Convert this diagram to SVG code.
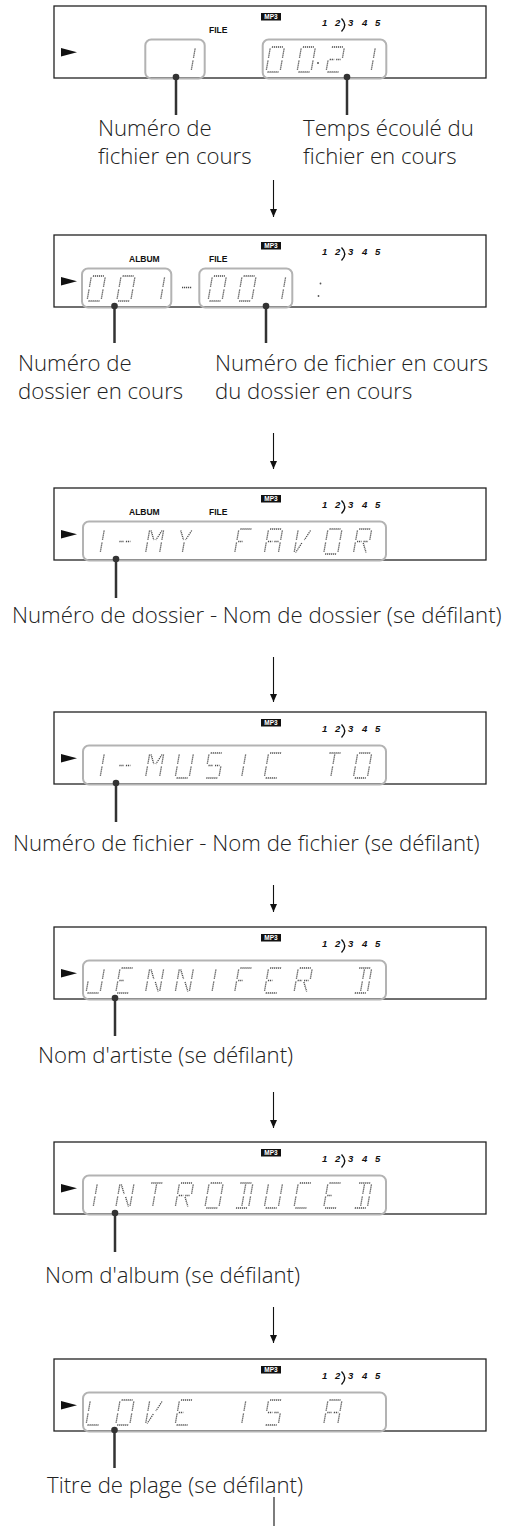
<svg xmlns="http://www.w3.org/2000/svg" width="519" height="1526" viewBox="0 0 519 1526">
<style>
.frame{fill:#fff;stroke:#222;stroke-width:1.3}
.mp3{fill:#111}
.mp3t{fill:#fff;font-family:"Liberation Sans",Arial,sans-serif;font-weight:bold;font-size:6.5px}
.trk{font-family:"Liberation Sans",Arial,sans-serif;font-weight:bold;font-style:italic;font-size:9.5px;fill:#111}
.ind{font-family:"Liberation Sans",Arial,sans-serif;font-weight:bold;font-size:8.5px;fill:#111}
.box{fill:none;stroke:#b3b3b3;stroke-width:2}
.seg{fill:none;stroke:#4a4a4a;stroke-width:1.3;stroke-dasharray:1.2 0.8}
.lead{stroke:#333;stroke-width:2.5}
.dot{fill:#333}
.lbl{font-family:"Open Sans",sans-serif;font-weight:300;font-size:22.2px;fill:#222}
.flow{stroke:#111;stroke-width:1.1;fill:none}
</style>
<defs>
<marker id="ah" viewBox="0 0 8 7" refX="8" refY="3.5" markerWidth="8" markerHeight="7" markerUnits="userSpaceOnUse" orient="auto"><path d="M0,0L8,3.5L0,7z" fill="#111"/></marker>
<path id="sa" class="seg" d="M1.5,0H12.5"/>
<path id="sd" class="seg" d="M1.5,25H12.5"/>
<path id="sf" class="seg" d="M0,1.5V11.5"/>
<path id="se" class="seg" d="M0,13.5V23.5"/>
<path id="sb" class="seg" d="M14,1.5V11.5"/>
<path id="sc" class="seg" d="M14,13.5V23.5"/>
<path id="sg1" class="seg" d="M1.5,12.5H6"/>
<path id="sg2" class="seg" d="M8,12.5H12.5"/>
<path id="si" class="seg" d="M7,1.5V11.5"/>
<path id="sl" class="seg" d="M7,13.5V23.5"/>
<path id="sh" class="seg" d="M1.5,1.5L6,11"/>
<path id="sj" class="seg" d="M12.5,1.5L8,11"/>
<path id="sk" class="seg" d="M6,14L1.5,23.5"/>
<path id="sm" class="seg" d="M8,14L12.5,23.5"/>
<g id="c0"><use href="#sa"/><use href="#sb"/><use href="#sc"/><use href="#sd"/><use href="#se"/><use href="#sf"/></g>
<g id="c1"><use href="#sb"/><use href="#sc"/></g>
<g id="c2"><use href="#sa"/><use href="#sb"/><use href="#sg1"/><use href="#sg2"/><use href="#se"/><use href="#sd"/></g>
<g id="cdash"><use href="#sg1"/><use href="#sg2"/></g>
<g id="cM"><use href="#sf"/><use href="#se"/><use href="#sb"/><use href="#sc"/><use href="#sh"/><use href="#sj"/></g>
<g id="cY"><use href="#sh"/><use href="#sj"/><use href="#sl"/></g>
<g id="cF"><use href="#sa"/><use href="#sf"/><use href="#se"/><use href="#sg1"/></g>
<g id="cA"><use href="#sa"/><use href="#sb"/><use href="#sc"/><use href="#se"/><use href="#sf"/><use href="#sg1"/><use href="#sg2"/></g>
<g id="cV"><use href="#sf"/><use href="#se"/><use href="#sk"/><use href="#sj"/></g>
<g id="cR"><use href="#sa"/><use href="#sb"/><use href="#sf"/><use href="#se"/><use href="#sg1"/><use href="#sg2"/><use href="#sm"/></g>
<g id="cU"><use href="#sb"/><use href="#sc"/><use href="#sd"/><use href="#se"/><use href="#sf"/></g>
<g id="cS"><use href="#sa"/><use href="#sf"/><use href="#sg1"/><use href="#sg2"/><use href="#sc"/><use href="#sd"/></g>
<g id="cI"><use href="#si"/><use href="#sl"/></g>
<g id="cC"><use href="#sa"/><use href="#sf"/><use href="#se"/><use href="#sd"/></g>
<g id="cT"><use href="#sa"/><use href="#si"/><use href="#sl"/></g>
<g id="cJ"><use href="#sb"/><use href="#sc"/><use href="#sd"/><use href="#se"/></g>
<g id="cE"><use href="#sa"/><use href="#sf"/><use href="#se"/><use href="#sd"/><use href="#sg1"/></g>
<g id="cN"><use href="#sf"/><use href="#se"/><use href="#sh"/><use href="#sm"/><use href="#sb"/><use href="#sc"/></g>
<g id="cD"><use href="#sa"/><use href="#sb"/><use href="#sc"/><use href="#sd"/><use href="#si"/><use href="#sl"/></g>
<g id="cL"><use href="#sf"/><use href="#se"/><use href="#sd"/></g>
<g id="pbase">
<rect class="frame" x="0" y="0" width="432" height="72"/>
<rect class="mp3" x="207" y="7" width="20" height="7.5"/>
<text class="mp3t" x="217" y="13.3" text-anchor="middle">MP3</text>
<text class="trk" y="20"><tspan x="268">1</tspan><tspan x="281">2</tspan><tspan x="294">3</tspan><tspan x="308">4</tspan><tspan x="321">5</tspan></text>
<path d="M287.5,12.5Q294,19 287.5,25.5" fill="none" stroke="#111" stroke-width="1.4"/>
<polygon points="7,42 23,46.2 7,50.5" fill="#111"/>
</g>
</defs>
<rect width="519" height="1526" fill="#fff"/>

<g id="panel-1">
<use href="#pbase" x="54" y="6"/>
<text class="ind" x="209" y="32.5">FILE</text>
<rect class="box" x="145.3" y="39.5" width="59.4" height="39" rx="6"/>
<rect class="box" x="262.7" y="39.5" width="123.6" height="39" rx="6"/>
<use href="#c1" transform="translate(181.4,47) skewX(-10)"/>
<use href="#c0" transform="translate(270.4,47) skewX(-10)"/>
<use href="#c0" transform="translate(301.4,47) skewX(-10)"/>
<circle cx="318" cy="63" r="1" fill="#555"/>
<use href="#c2" transform="translate(330.4,47) skewX(-10)"/>
<use href="#c1" transform="translate(361.4,47) skewX(-10)"/>
<line class="lead" x1="176" y1="77" x2="176" y2="115"/>
<circle class="dot" cx="176" cy="77" r="3.3"/>
<line class="lead" x1="347" y1="77" x2="347" y2="115"/>
<circle class="dot" cx="347" cy="77" r="3.3"/>
<text class="lbl" x="98" y="136">Numéro de</text>
<text class="lbl" x="98" y="164">fichier en cours</text>
<text class="lbl" x="303" y="136">Temps écoulé du</text>
<text class="lbl" x="303" y="164">fichier en cours</text>
</g>

<g id="panel-2">
<use href="#pbase" x="54" y="235"/>
<text class="ind" x="129" y="261.5">ALBUM</text>
<text class="ind" x="209" y="261.5">FILE</text>
<rect class="box" x="82" y="268.5" width="89.3" height="39" rx="6"/>
<rect class="box" x="199.3" y="268.5" width="93" height="39" rx="6"/>
<use href="#c0" transform="translate(91.4,276) skewX(-10)"/>
<use href="#c0" transform="translate(121.1,276) skewX(-10)"/>
<use href="#c1" transform="translate(150.8,276) skewX(-10)"/>
<line class="seg" x1="182" y1="287.5" x2="192" y2="287.5"/>
<use href="#c0" transform="translate(212.4,276) skewX(-10)"/>
<use href="#c0" transform="translate(242.1,276) skewX(-10)"/>
<use href="#c1" transform="translate(271.8,276) skewX(-10)"/>
<circle cx="320.5" cy="283.5" r="0.9" fill="#555"/>
<circle cx="318.5" cy="296" r="0.9" fill="#555"/>
<line class="lead" x1="114.5" y1="306" x2="114.5" y2="343"/>
<circle class="dot" cx="114.5" cy="306" r="3.3"/>
<line class="lead" x1="266" y1="306" x2="266" y2="343"/>
<circle class="dot" cx="266" cy="306" r="3.3"/>
<text class="lbl" x="18" y="371">Numéro de</text>
<text class="lbl" x="18" y="399">dossier en cours</text>
<text class="lbl" x="215" y="371">Numéro de fichier en cours</text>
<text class="lbl" x="215" y="399">du dossier en cours</text>
</g>

<g id="panel-3">
<use href="#pbase" x="54" y="488"/>
<text class="ind" x="129" y="514.5">ALBUM</text>
<text class="ind" x="209" y="514.5">FILE</text>
<rect class="box" x="83" y="521.5" width="303" height="39" rx="6"/>
<use href="#c1" transform="translate(90.4,529) skewX(-10)"/>
<use href="#cdash" transform="translate(120.1,529) skewX(-10)"/>
<use href="#cM" transform="translate(149.8,529) skewX(-10)"/>
<use href="#cY" transform="translate(179.5,529) skewX(-10)"/>
<use href="#cF" transform="translate(238.9,529) skewX(-10)"/>
<use href="#cA" transform="translate(268.6,529) skewX(-10)"/>
<use href="#cV" transform="translate(298.3,529) skewX(-10)"/>
<use href="#c0" transform="translate(328,529) skewX(-10)"/>
<use href="#cR" transform="translate(357.7,529) skewX(-10)"/>
<line class="lead" x1="116" y1="559" x2="116" y2="598"/>
<circle class="dot" cx="116" cy="559" r="3.3"/>
<text class="lbl" x="12" y="623">Numéro de dossier - Nom de dossier (se défilant)</text>
</g>

<g id="panel-4">
<use href="#pbase" x="54" y="712"/>
<rect class="box" x="83" y="745.5" width="303" height="39" rx="6"/>
<use href="#c1" transform="translate(90.4,753) skewX(-10)"/>
<use href="#cdash" transform="translate(120.1,753) skewX(-10)"/>
<use href="#cM" transform="translate(149.8,753) skewX(-10)"/>
<use href="#cU" transform="translate(179.5,753) skewX(-10)"/>
<use href="#cS" transform="translate(209.2,753) skewX(-10)"/>
<use href="#cI" transform="translate(238.9,753) skewX(-10)"/>
<use href="#cC" transform="translate(268.6,753) skewX(-10)"/>
<use href="#cT" transform="translate(328,753) skewX(-10)"/>
<use href="#c0" transform="translate(357.7,753) skewX(-10)"/>
<line class="lead" x1="116" y1="783" x2="116" y2="822"/>
<circle class="dot" cx="116" cy="783" r="3.3"/>
<text class="lbl" x="13" y="851">Numéro de fichier - Nom de fichier (se défilant)</text>
</g>

<g id="panel-5">
<use href="#pbase" x="54" y="927"/>
<rect class="box" x="83" y="960.5" width="303" height="39" rx="6"/>
<use href="#cJ" transform="translate(90.4,968) skewX(-10)"/>
<use href="#cE" transform="translate(120.1,968) skewX(-10)"/>
<use href="#cN" transform="translate(149.8,968) skewX(-10)"/>
<use href="#cN" transform="translate(179.5,968) skewX(-10)"/>
<use href="#cI" transform="translate(209.2,968) skewX(-10)"/>
<use href="#cF" transform="translate(238.9,968) skewX(-10)"/>
<use href="#cE" transform="translate(268.6,968) skewX(-10)"/>
<use href="#cR" transform="translate(298.3,968) skewX(-10)"/>
<use href="#cD" transform="translate(357.7,968) skewX(-10)"/>
<line class="lead" x1="115" y1="998" x2="115" y2="1036"/>
<circle class="dot" cx="115" cy="998" r="3.3"/>
<text class="lbl" x="38" y="1063">Nom d'artiste (se défilant)</text>
</g>

<g id="panel-6">
<use href="#pbase" x="54" y="1142"/>
<rect class="box" x="83" y="1175.5" width="303" height="39" rx="6"/>
<use href="#cI" transform="translate(90.4,1183) skewX(-10)"/>
<use href="#cN" transform="translate(120.1,1183) skewX(-10)"/>
<use href="#cT" transform="translate(149.8,1183) skewX(-10)"/>
<use href="#cR" transform="translate(179.5,1183) skewX(-10)"/>
<use href="#c0" transform="translate(209.2,1183) skewX(-10)"/>
<use href="#cD" transform="translate(238.9,1183) skewX(-10)"/>
<use href="#cU" transform="translate(268.6,1183) skewX(-10)"/>
<use href="#cC" transform="translate(298.3,1183) skewX(-10)"/>
<use href="#cE" transform="translate(328,1183) skewX(-10)"/>
<use href="#cD" transform="translate(357.7,1183) skewX(-10)"/>
<line class="lead" x1="115" y1="1213" x2="115" y2="1252"/>
<circle class="dot" cx="115" cy="1213" r="3.3"/>
<text class="lbl" x="45" y="1283">Nom d'album (se défilant)</text>
</g>

<g id="panel-7">
<use href="#pbase" x="54" y="1359"/>
<rect class="box" x="83" y="1392.5" width="303" height="39" rx="6"/>
<use href="#cL" transform="translate(90.4,1400) skewX(-10)"/>
<use href="#c0" transform="translate(120.1,1400) skewX(-10)"/>
<use href="#cV" transform="translate(149.8,1400) skewX(-10)"/>
<use href="#cE" transform="translate(179.5,1400) skewX(-10)"/>
<use href="#cI" transform="translate(238.9,1400) skewX(-10)"/>
<use href="#cS" transform="translate(268.6,1400) skewX(-10)"/>
<use href="#cA" transform="translate(328,1400) skewX(-10)"/>
<line class="lead" x1="114.5" y1="1430" x2="114.5" y2="1468"/>
<circle class="dot" cx="114.5" cy="1430" r="3.3"/>
<text class="lbl" x="47" y="1493">Titre de plage (se défilant)</text>
</g>

<g id="connectors">
<line class="flow" x1="273.5" y1="180" x2="273.5" y2="217" marker-end="url(#ah)"/>
<line class="flow" x1="273.5" y1="433" x2="273.5" y2="469" marker-end="url(#ah)"/>
<line class="flow" x1="273.5" y1="657" x2="273.5" y2="702" marker-end="url(#ah)"/>
<line class="flow" x1="273.5" y1="885" x2="273.5" y2="912" marker-end="url(#ah)"/>
<line class="flow" x1="273.5" y1="1092" x2="273.5" y2="1128" marker-end="url(#ah)"/>
<line class="flow" x1="273.5" y1="1307" x2="273.5" y2="1343" marker-end="url(#ah)"/>
<line class="flow" x1="274" y1="1497" x2="274" y2="1526"/>
</g>
</svg>
